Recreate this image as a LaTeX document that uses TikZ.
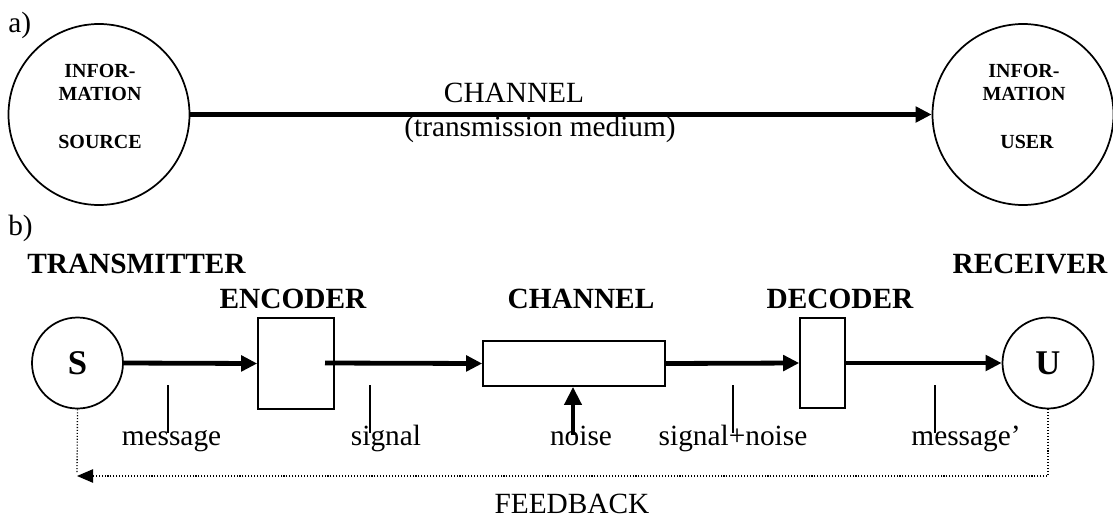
\documentclass[tikz,border=0pt]{standalone}
\usepackage{fontspec}
\setmainfont{Liberation Serif}
\usetikzlibrary{arrows.meta}
\begin{document}
\begin{tikzpicture}[x=0.75pt,y=-0.75pt,
  txt/.style={inner sep=0pt,anchor=base,font=\fontsize{22}{26}\selectfont},
  btxt/.style={inner sep=0pt,anchor=base,font=\fontsize{22}{26}\selectfont\bfseries},
  ctxt/.style={inner sep=0pt,anchor=base,font=\fontsize{15}{18}\selectfont\bfseries},
  bigcirc/.style={circle,draw,line width=1.3pt,minimum size=135.75pt,inner sep=0pt},
  smallcirc/.style={circle,draw,line width=1.3pt,minimum size=68.25pt,inner sep=0pt,
    font=\fontsize{26}{30}\selectfont\bfseries},
  block/.style={draw,line width=1.2pt,inner sep=0pt},
  flow/.style={line width=3.6pt,-{Triangle[length=12pt,width=11.5pt]}},
  noisearrow/.style={line width=3.4pt,-{Triangle[length=13.5pt,width=12.5pt]}},
  tickline/.style={line width=0.8pt},
  fb/.style={line width=1pt,dash pattern=on 0.8pt off 1.4pt},
  fbarrow/.style={fb,-{Triangle[length=12pt,width=10pt]}}
]
\useasboundingbox (0,0) rectangle (1113,518);

% ---------- a) simple source / channel / user ----------
\node[txt,anchor=base west] (la) at (8,32) {a)};

\node[bigcirc] (src) at (99,114.5) {};
\node[ctxt] (src1) at (100,77) {INFOR-};
\node[ctxt] (src2) at (100,100) {MATION};
\node[ctxt] (src3) at (100,148) {SOURCE};

\node[bigcirc] (usr) at (1023,114.5) {};
\node[ctxt] (usr1) at (1024,77) {INFOR-};
\node[ctxt] (usr2) at (1024,100) {MATION};
\node[ctxt] (usr3) at (1027,148) {USER};

\draw[flow] (src.east) -- (usr.west);
\node[txt] (chtop) at (514,102) {CHANNEL};
\node[txt] (medium) at (540,136) {(transmission medium)};

% ---------- b) transmitter / channel / receiver ----------
\node[txt,anchor=base west] (lb) at (8,235) {b)};
\node[btxt,anchor=base west] (tx) at (27,273) {TRANSMITTER};
\node[btxt] (rxlab) at (1030,273) {RECEIVER};
\node[btxt] (enclab) at (293,308) {ENCODER};
\node[btxt] (chlab) at (581,308) {CHANNEL};
\node[btxt] (declab) at (840,308) {DECODER};

\node[smallcirc] (s) at (77.5,363) {S};
\node[block,minimum width=57pt,minimum height=68.25pt] (enc) at (296,363.5) {};
\node[block,minimum width=136.5pt,minimum height=33.75pt] (chan) at (574,363.5) {};
\node[block,minimum width=33.75pt,minimum height=67.5pt] (dec) at (822.5,363) {};
\node[smallcirc] (u) at (1048,363) {U};

\coordinate (encout) at (325,363);
\draw[flow] (s.east) -- (enc.west);
\draw[flow] (encout) -- (chan.west);
\draw[flow] (chan.east) -- (dec.west);
\draw[flow] (dec.east) -- (u.west);

% noise entering the channel from below
\coordinate (noisetail) at (573,435);
\draw[noisearrow] (noisetail) -- (noisetail |- chan.south);

% signal labels with their pointer lines
\node[txt] (msg) at (171.5,445) {message};
\node[txt] (sig) at (386,445) {signal};
\node[txt] (noise) at (581,445) {noise};
\node[txt] (sn) at (733,445) {signal+noise};
\node[txt] (msg2) at (966,445) {message’};

\foreach \n/\x in {t1/168,t2/370,t3/733,t4/935}{
  \coordinate (\n a) at (\x,385);
  \coordinate (\n b) at (\x,433);
  \draw[tickline] (\n a) -- (\n b);
}

% feedback loop
\coordinate (fbend) at (77,476);
\coordinate (fbs) at (77,473);
\draw[fbarrow] (u.south) |- (fbend);
\draw[fb] (s.south) -- (fbs);
\node[txt] (fblab) at (572,513) {FEEDBACK};
\end{tikzpicture}
\end{document}
